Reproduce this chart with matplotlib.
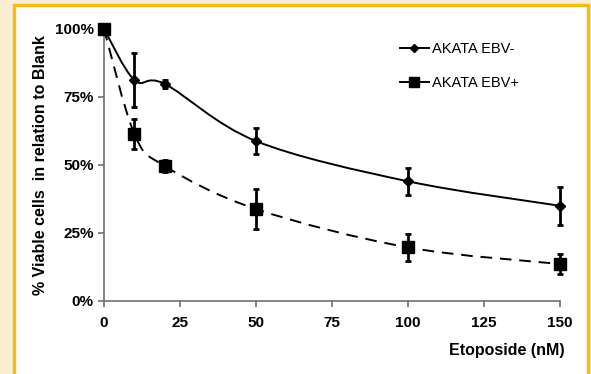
import numpy as np
import matplotlib.pyplot as plt
from matplotlib.path import Path
from matplotlib.patches import PathPatch, Rectangle
from matplotlib.lines import Line2D

# data
dose = [0, 10, 20, 50, 100, 150]
ebv_neg = [100, 81.2, 79.8, 58.8, 44.0, 35.0]
ebv_neg_err = [0, 9.8, 1.5, 4.7, 4.9, 6.9]
ebv_pos = [100, 61.4, 49.6, 33.8, 19.7, 13.6]
ebv_pos_err = [0, 5.5, 2.1, 7.4, 5.1, 3.6]
labels = ["AKATA EBV-", "AKATA EBV+"]

plt.rcParams['font.family'] = ['Liberation Sans', 'DejaVu Sans']

fig = plt.figure(figsize=(5.91, 3.74), dpi=100)
fig.patch.set_facecolor('#FBEDD2')
# white panel with gold border
fig.patches.append(Rectangle((13.5 / 591, -0.05), (587.5 - 13.5) / 591, 1.05 - 5.5 / 374,
                             transform=fig.transFigure, facecolor='white',
                             edgecolor='#F2BC1B', linewidth=2.5, zorder=-1))

ax = fig.add_axes([104 / 591, 1 - 301 / 374, 456 / 591, 272 / 374])
ax.set_facecolor('none')


def smooth_path(xs, ys):
    # Excel-style smoothed line as cubic Bezier segments between the data points
    pts = np.column_stack([xs, ys]).astype(float)
    n = len(pts)
    verts = [pts[0]]
    codes = [Path.MOVETO]
    for i in range(n - 1):
        p0 = pts[i - 1] if i > 0 else pts[i]
        p1 = pts[i]
        p2 = pts[i + 1]
        p3 = pts[i + 2] if i + 2 < n else pts[i + 1]
        c1 = p1 + (p2 - p0) / 6
        c2 = p2 - (p3 - p1) / 6
        verts += [c1, c2, p2]
        codes += [Path.CURVE4] * 3
    return Path(verts, codes)


ax.add_patch(PathPatch(smooth_path(dose, ebv_neg), facecolor='none', edgecolor='black',
                       linewidth=1.4, zorder=2, clip_on=False))
ax.add_patch(PathPatch(smooth_path(dose, ebv_pos), facecolor='none', edgecolor='black',
                       linewidth=1.4, linestyle=(0, (6, 4)), zorder=2, clip_on=False))

for ys, err, mk, ms in [(ebv_neg, ebv_neg_err, 'D', 5), (ebv_pos, ebv_pos_err, 's', 8)]:
    cont = ax.errorbar(dose, ys, yerr=err, fmt=mk, color='black', markersize=ms,
                       ecolor='black', elinewidth=2, capsize=2.5, capthick=2, zorder=3)
    cont[0].set_clip_on(False)
    for a in cont[1] + cont[2]:
        a.set_clip_on(False)

ax.set_xlim(0, 150)
ax.set_ylim(0, 100)
ax.set_xticks([0, 25, 50, 75, 100, 125, 150])
ax.set_yticks([0, 25, 50, 75, 100])
ax.set_yticklabels(['0%', '25%', '50%', '75%', '100%'])
for s in ['top', 'right']:
    ax.spines[s].set_visible(False)
for s in ['left', 'bottom']:
    ax.spines[s].set_color('#707070')
    ax.spines[s].set_linewidth(1.2)
ax.tick_params(axis='both', color='#707070', length=4, width=1.2, labelsize=11)
ax.tick_params(axis='x', pad=7)
for t in ax.get_xticklabels() + ax.get_yticklabels():
    t.set_fontweight('bold')

ax.set_ylabel('% Viable cells  in relation to Blank', fontsize=11.5, fontweight='bold', labelpad=5)
fig.text(565 / 591, 1 - 350 / 374, 'Etoposide (nM)', fontsize=11.5, fontweight='bold',
         ha='right', va='center')

handles = [Line2D([], [], color='black', marker='D', markersize=4, linewidth=1.4),
           Line2D([], [], color='black', marker='s', markersize=7, linewidth=1.4)]
ax.legend(handles, labels, loc='upper left', bbox_to_anchor=(0.62, 1.0), frameon=False,
          fontsize=10.5, handlelength=2.0, handletextpad=0.2, labelspacing=1.35)

fig.savefig('out.png', dpi=100, facecolor=fig.get_facecolor())
